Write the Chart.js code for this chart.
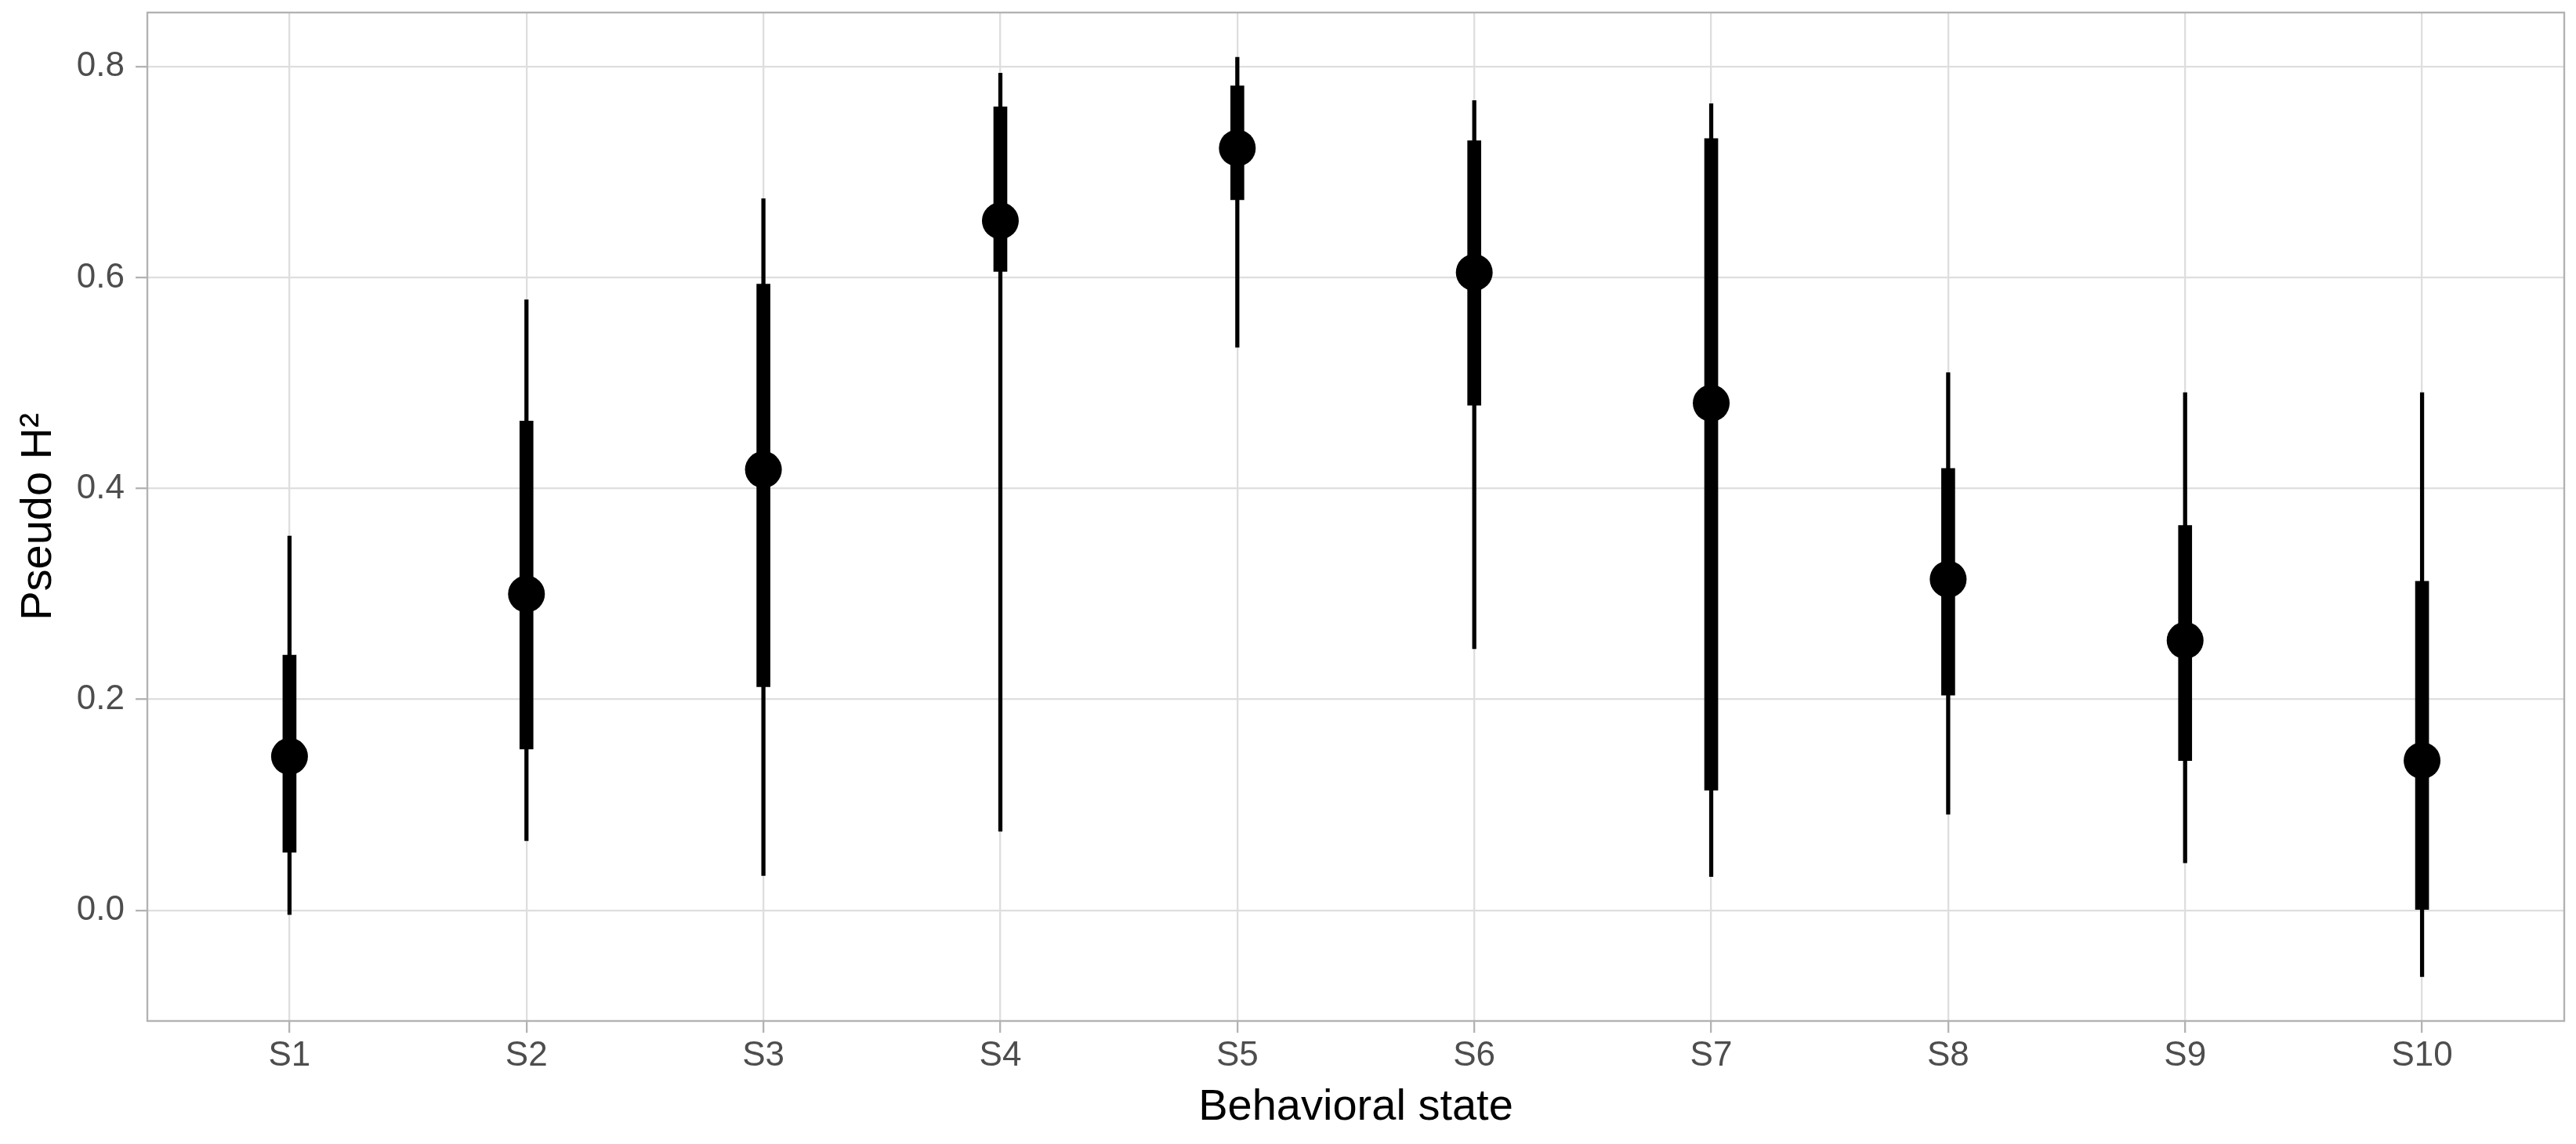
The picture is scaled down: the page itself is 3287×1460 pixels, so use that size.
<!DOCTYPE html>
<html>
<head>
<meta charset="utf-8">
<script src="https://cdn.jsdelivr.net/npm/chart.js@4.4.1/dist/chart.umd.min.js"></script>
<style>
  html, body { margin: 0; padding: 0; background: #ffffff; }
  #wrap { width: 3287px; height: 1460px; }
</style>
</head>
<body>
<div id="wrap"><canvas id="c" width="3287" height="1460"></canvas></div>
<script>
// ---- Data ----
const categories = ["S1", "S2", "S3", "S4", "S5", "S6", "S7", "S8", "S9", "S10"];
const estimate   = [0.146, 0.300, 0.418, 0.654, 0.723, 0.605, 0.481, 0.314, 0.256, 0.142];
const innerLow   = [0.055, 0.153, 0.212, 0.606, 0.674, 0.479, 0.114, 0.204, 0.142, 0.000];
const innerHigh  = [0.242, 0.464, 0.594, 0.762, 0.782, 0.730, 0.732, 0.419, 0.365, 0.312];
const outerLow   = [-0.004, 0.066, 0.033, 0.075, 0.534, 0.248, 0.032, 0.091, 0.045, -0.063];
const outerHigh  = [0.355, 0.579, 0.675, 0.794, 0.809, 0.768, 0.765, 0.510, 0.491, 0.491];
const yTicks     = [0.0, 0.2, 0.4, 0.6, 0.8];
const yMin = -0.105, yMax = 0.8515;
const xTitle = "Behavioral state";
const yTitle = "Pseudo H\u00B2";

const positions = categories.map((_, i) => i + 1);

const FONT = "'Liberation Sans', Arial, Helvetica, sans-serif";
const GRID = "#DEDEDE";
const FRAME = "#B3B3B3";

const panelBorder = {
  id: 'panelBorder',
  beforeDatasetsDraw(chart) {
    const a = chart.chartArea, ctx = chart.ctx;
    ctx.save();
    ctx.strokeStyle = FRAME;
    ctx.lineWidth = 2.4;
    ctx.strokeRect(a.left, a.top, a.right - a.left, a.bottom - a.top);
    ctx.restore();
  }
};

new Chart(document.getElementById('c'), {
  type: 'bar',
  data: {
    datasets: [
      {
        label: 'outer',
        data: positions.map((x, i) => ({ x: x, y: [outerLow[i], outerHigh[i]] })),
        backgroundColor: '#000000',
        borderWidth: 0,
        barThickness: 4.6,
        grouped: false,
        order: 2
      },
      {
        label: 'inner',
        data: positions.map((x, i) => ({ x: x, y: [innerLow[i], innerHigh[i]] })),
        backgroundColor: '#000000',
        borderWidth: 0,
        barThickness: 17,
        grouped: false,
        order: 1
      },
      {
        type: 'line',
        label: 'estimate',
        data: positions.map((x, i) => ({ x: x, y: estimate[i] })),
        showLine: false,
        pointRadius: 23.5,
        pointHoverRadius: 23.5,
        pointBackgroundColor: '#000000',
        pointBorderWidth: 0,
        borderWidth: 0,
        order: 0
      }
    ]
  },
  options: {
    responsive: false,
    animation: false,
    devicePixelRatio: 1,
    layout: { autoPadding: false, padding: { top: 16, right: 15, left: 0, bottom: 0 } },
    plugins: { legend: { display: false }, tooltip: { enabled: false } },
    scales: {
      x: {
        type: 'linear',
        min: 0.4,
        max: 10.6,
        offset: false,
        afterBuildTicks(scale) { scale.ticks = positions.map(v => ({ value: v })); },
        afterFit(scale) { scale.height = 157; scale.paddingLeft = 0; scale.paddingRight = 0; },
        ticks: {
          autoSkip: false,
          maxRotation: 0,
          padding: 3,
          color: '#4D4D4D',
          font: { family: FONT, size: 44 },
          callback: (v) => categories[Math.round(v) - 1] || ''
        },
        grid: {
          offset: false,
          color: GRID,
          lineWidth: 2.3,
          tickLength: 15,
          tickColor: FRAME,
          tickWidth: 2.3,
          drawTicks: true
        },
        border: { display: false },
        title: {
          display: true,
          text: xTitle,
          color: '#000000',
          font: { family: FONT, size: 56 },
          padding: { top: 0, bottom: 13 }
        }
      },
      y: {
        type: 'linear',
        min: yMin,
        max: yMax,
        afterBuildTicks(scale) { scale.ticks = yTicks.map(v => ({ value: v })); },
        afterFit(scale) { scale.width = 188; scale.paddingTop = 0; scale.paddingBottom = 0; },
        ticks: {
          padding: 14,
          color: '#4D4D4D',
          font: { family: FONT, size: 44 },
          callback: (v) => Number(v).toFixed(1)
        },
        grid: {
          color: GRID,
          lineWidth: 2.3,
          tickLength: 15,
          tickColor: FRAME,
          tickWidth: 2.3,
          drawTicks: true
        },
        border: { display: false },
        title: {
          display: true,
          text: yTitle,
          color: '#000000',
          font: { family: FONT, size: 56 },
          padding: { top: 16, bottom: 0 }
        }
      }
    }
  },
  plugins: [panelBorder]
});
</script>
</body>
</html>
